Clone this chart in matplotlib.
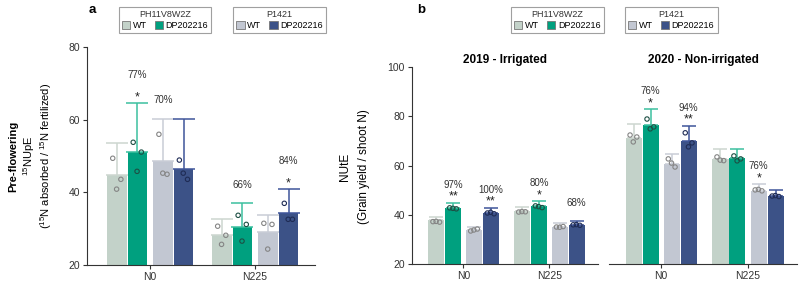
#Eficiencia de uso de N: NUpE pre-floracion (a) y NUtE (b)
import matplotlib.pyplot as plt
import numpy as np
from matplotlib.patches import Patch

plt.rcParams['font.family'] = ['Liberation Sans', 'DejaVu Sans']
plt.rcParams['mathtext.fontset'] = 'custom'
plt.rcParams['mathtext.rm'] = 'Liberation Sans'

#datos
grupos = ['N0', 'N225']
genotipos = ['WT', 'DP202216', 'WT', 'DP202216']
lineas = ['PH11V8W2Z', 'P1421']

#panel a: 15NUpE (medias, desviacion y puntos individuales) [grupo][barra]
nupe_media = [[44.7, 51.1, 48.6, 46.4], [28.2, 30.4, 29.0, 34.3]]
nupe_error = [[8.8, 13.5, 11.6, 13.8], [4.4, 6.6, 4.7, 6.6]]
nupe_puntos = [
    [[49.4, 43.6, 40.9], [53.8, 51.1, 45.8], [56.0, 45.0, 45.3], [48.9, 43.6, 45.3]],
    [[30.7, 28.2, 25.7], [33.7, 31.2, 26.6], [31.5, 31.2, 24.4], [37.0, 32.6, 32.6]],
]

#panel b: NUtE 2019 irrigado
nute19_media = [[37.9, 42.8, 33.8, 40.7], [41.5, 43.6, 35.0, 35.9]]
nute19_error = [[1.2, 2.0, 1.2, 2.1], [1.7, 2.0, 1.7, 1.6]]
nute19_puntos = [
    [[37.2, 37.0, 37.3], [42.8, 42.4, 42.6], [33.4, 34.2, 33.8], [40.7, 40.4, 41.0]],
    [[41.1, 41.2, 41.3], [43.6, 42.9, 43.3], [35.0, 35.2, 34.9], [35.9, 35.7, 36.0]],
]

#panel b: NUtE 2020 no irrigado
nute20_media = [[71.2, 76.5, 60.7, 70.0], [62.7, 63.1, 49.7, 47.6]]
nute20_error = [[5.7, 6.5, 4.0, 6.1], [4.0, 3.6, 2.8, 2.5]]
nute20_puntos = [
    [[72.4, 71.6, 69.6], [78.9, 75.7, 74.9], [62.7, 59.4, 61.0], [73.3, 69.2, 67.6]],
    [[63.5, 62.0, 62.2], [63.9, 62.7, 61.9], [50.1, 49.7, 50.3], [47.6, 47.4, 47.8]],
]

#anotaciones: (grupo, barra, porcentaje, estrellas)
nupe_notas = [(0, 1, '77%', '*'), (0, 2, '70%', ''), (1, 1, '66%', ''), (1, 3, '84%', '*')]
nute19_notas = [(0, 1, '97%', '**'), (0, 3, '100%', '**'), (1, 1, '80%', '*'), (1, 3, '68%', '')]
nute20_notas = [(0, 1, '76%', '*'), (0, 3, '94%', '**'), (1, 2, '76%', '*')]

#estilos
colores = ['#c3d2c9', '#00a07f', '#c2c7d2', '#3c5287']
col_err = ['#cdd6d0', '#3cc09f', '#c9cdd6', '#3f559a']
col_pto = ['#858585', '#1d4f44', '#858585', '#1f2c55']
desplaz = [-0.315, -0.12, 0.125, 0.32]
ancho = 0.185
jitter = np.array([-0.22, 0.2, -0.02])
gris = '#333333'


def dibujar(ax, medias, errores, puntos, notas, capsize, off_pct, off_pct_est):
    for g in range(len(grupos)):
        for i in range(4):
            x = g + desplaz[i]
            ax.bar(x, medias[g][i], width=ancho, color=colores[i], zorder=2)
            ax.errorbar(x, medias[g][i], yerr=[[0], [errores[g][i]]], color=col_err[i],
                        capsize=capsize, lw=1.1, capthick=1.1, zorder=3)
            ax.scatter(x + jitter * ancho, puntos[g][i], s=10, facecolors='none',
                       edgecolors=col_pto[i], linewidths=0.8, zorder=4)
    for g, i, pct, est in notas:
        x = g + desplaz[i]
        top = medias[g][i] + errores[g][i]
        if est:
            ax.annotate(est, (x, top), xytext=(0, 0), textcoords='offset points',
                        ha='center', va='bottom', fontsize=9, color='#222222')
        ax.annotate(pct, (x, top), xytext=(0, off_pct_est if est else off_pct),
                    textcoords='offset points', ha='center', va='center',
                    fontsize=7, color='#333333')
    ax.set_xlim(-0.6, 1.57)
    ax.set_xticks(range(len(grupos)))
    ax.set_xticklabels(grupos)
    for s in ['top', 'right']:
        ax.spines[s].set_visible(False)
    for s in ['left', 'bottom']:
        ax.spines[s].set_color(gris)
        ax.spines[s].set_linewidth(0.8)
    ax.tick_params(labelsize=7.5, colors=gris, length=3, width=0.8, pad=2)


fig = plt.figure(figsize=(7.99, 2.82), dpi=100)

#panel a
ax_a = fig.add_axes([0.109, 0.060, 0.285, 0.773])
dibujar(ax_a, nupe_media, nupe_error, nupe_puntos, nupe_notas, 8, 13.5, 20)
ax_a.set_ylim(20, 80)
ax_a.set_yticks([20, 40, 60, 80])
fig.text(0.016, 0.447, 'Pre-flowering', rotation=90, ha='center', va='center',
         fontsize=8, fontweight='bold')
fig.text(0.036, 0.447, '$^{15}$NUpE', rotation=90, ha='center', va='center', fontsize=8)
fig.text(0.058, 0.447, '($^{15}$N absorbed / $^{15}$N fertilized)', rotation=90,
         ha='center', va='center', fontsize=8)

#panel b
ax_b1 = fig.add_axes([0.5156, 0.064, 0.233, 0.698])
dibujar(ax_b1, nute19_media, nute19_error, nute19_puntos, nute19_notas, 5, 13, 13)
ax_b1.set_ylim(20, 100)
ax_b1.set_yticks([20, 40, 60, 80, 100])
ax_b1.set_title('2019 - Irrigated', fontsize=8.5, fontweight='bold', pad=3)

ax_b2 = fig.add_axes([0.762, 0.064, 0.236, 0.698])
dibujar(ax_b2, nute20_media, nute20_error, nute20_puntos, nute20_notas, 5, 13, 13)
ax_b2.set_ylim(20, 100)
ax_b2.spines['left'].set_visible(False)
ax_b2.tick_params(axis='y', left=False, labelleft=False)
ax_b2.set_title('2020 - Non-irrigated', fontsize=8.5, fontweight='bold', pad=3)

fig.text(0.432, 0.41, 'NUtE', rotation=90, ha='center', va='center', fontsize=8.5)
fig.text(0.455, 0.41, '(Grain yield / shoot N)', rotation=90, ha='center', va='center',
         fontsize=8.5)

#etiquetas de panel
fig.text(0.115, 0.965, 'a', fontsize=9.5, fontweight='bold', ha='center', va='center')
fig.text(0.527, 0.965, 'b', fontsize=9.5, fontweight='bold', ha='center', va='center')

#leyendas
centros = [0.2065, 0.350, 0.6975, 0.840]
for k, cx in enumerate(centros):
    j = k % 2
    handles = [Patch(facecolor=colores[2 * j], edgecolor='#777777', lw=0.6),
               Patch(facecolor=colores[2 * j + 1], edgecolor='#777777', lw=0.6)]
    leg = fig.legend(handles, genotipos[2 * j:2 * j + 2], title=lineas[j], ncol=2,
                     loc='upper center', bbox_to_anchor=(cx, 0.99), fontsize=6.5,
                     title_fontsize=6.5, frameon=True, fancybox=False,
                     handlelength=0.9, handleheight=0.9, handletextpad=0.3,
                     columnspacing=0.9, borderpad=0.35, labelspacing=0.2)
    leg.get_frame().set_edgecolor('#888888')
    leg.get_frame().set_linewidth(0.8)
    leg.get_title().set_color('#333333')

fig.savefig('out.png', dpi=100)
